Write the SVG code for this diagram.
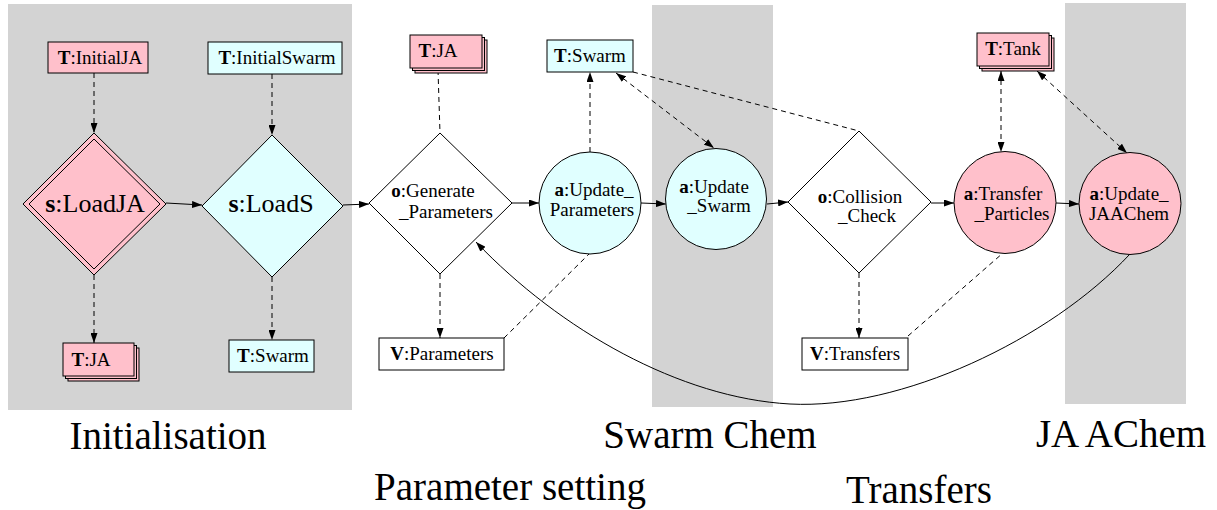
<svg xmlns="http://www.w3.org/2000/svg" width="1217" height="510" viewBox="0 0 1217 510" font-family="'Liberation Serif', 'Times New Roman', Tinos, 'DejaVu Serif', 'Noto Serif', serif">
<style>
text{font-family:'Liberation Serif','Times New Roman',Tinos,'DejaVu Serif','Noto Serif',serif;fill:#000;text-anchor:middle}
.n{font-size:19px}
.big{font-size:26px}
.lbl{font-size:39px}
.b{font-weight:bold}
.bg{fill:#d3d3d3;stroke:none}
.pk{fill:#ffc0cb;stroke:#000;stroke-width:1}
.cy{fill:#e0ffff;stroke:#000;stroke-width:1}
.wh{fill:#fff;stroke:#000;stroke-width:1}
.sol{fill:none;stroke:#000;stroke-width:1}
.das{fill:none;stroke:#000;stroke-width:1;stroke-dasharray:5,4}
.arr{marker-end:url(#ah)}
.arr2{marker-start:url(#ah);marker-end:url(#ah)}
</style>
<defs>
<marker id="ah" viewBox="0 0 10 7" refX="10" refY="3.5" markerWidth="10" markerHeight="7" markerUnits="userSpaceOnUse" orient="auto-start-reverse"><path d="M0,0 L10,3.5 L0,7 z" fill="#000"/></marker>
</defs>
<rect width="1217" height="510" fill="#fff"/>
<g id="areas">
<rect class="bg" x="8" y="4" width="344" height="406"/>
<rect class="bg" x="652" y="5" width="121" height="402"/>
<rect class="bg" x="1065" y="3" width="121" height="401"/>
</g>
<g id="connectors">
<line class="das arr" x1="94" y1="73" x2="94" y2="133"/>
<line class="das arr" x1="94" y1="275" x2="94" y2="343"/>
<line class="das arr" x1="272" y1="74" x2="272" y2="135"/>
<line class="das arr" x1="272" y1="277" x2="272" y2="340"/>
<line class="sol arr" x1="166" y1="203" x2="202" y2="205"/>
<line class="sol arr" x1="343" y1="205" x2="369" y2="204"/>
<line class="das" x1="438" y1="70" x2="440" y2="133"/>
<line class="das arr" x1="590" y1="152" x2="590" y2="72"/>
<line class="sol arr" x1="512" y1="203" x2="539" y2="203"/>
<line class="das arr" x1="440" y1="274" x2="440" y2="338"/>
<line class="das" x1="504" y1="338" x2="589" y2="254"/>
<line class="sol arr" x1="641" y1="203" x2="666" y2="204"/>
<line class="das arr2" x1="616" y1="73" x2="714" y2="148"/>
<line class="das" x1="633" y1="72" x2="859" y2="131"/>
<line class="sol arr" x1="767" y1="204" x2="788" y2="202"/>
<line class="das arr" x1="859" y1="273" x2="859" y2="338"/>
<line class="das" x1="908" y1="336" x2="1003" y2="253"/>
<line class="sol arr" x1="931" y1="203" x2="954" y2="203"/>
<line class="das arr2" x1="1001" y1="71" x2="1001" y2="152"/>
<line class="das arr2" x1="1037" y1="71" x2="1127" y2="153"/>
<line class="sol arr" x1="1056" y1="203" x2="1079" y2="204"/>
<path class="sol arr" d="M1130,254 C1050,340 900,410 790,404 C680,398 560,330 476,242"/>
</g>
<g id="InitialJA">
<rect class="pk" x="48" y="42" width="100" height="31"/>
<text class="n" x="100" y="64"><tspan class="b">T</tspan>:InitialJA</text>
</g>
<g id="InitialSwarm">
<rect class="cy" x="208" y="42" width="134" height="32"/>
<text class="n" x="277" y="64"><tspan class="b">T</tspan>:InitialSwarm</text>
</g>
<g id="LoadJA">
<polygon class="pk" points="94,133 166,204 94,275 23,204"/>
<polygon class="pk" points="94,139 160,204 94,269 29,204"/>
<text class="big" x="95" y="212"><tspan class="b">s</tspan>:LoadJA</text>
</g>
<g id="LoadS">
<polygon class="cy" points="272,135 343,206 272,277 202,206"/>
<text class="big" x="271" y="212"><tspan class="b">s</tspan>:LoadS</text>
</g>
<g id="JA_bottom">
<rect class="pk" x="68" y="348" width="71" height="33"/>
<rect class="pk" x="65.5" y="345.5" width="71" height="33"/>
<rect class="pk" x="63" y="343" width="71" height="33"/>
<text class="n" x="91" y="366"><tspan class="b">T</tspan>:JA</text>
</g>
<g id="Swarm_bottom">
<rect class="cy" x="229" y="340" width="85" height="32"/>
<text class="n" x="273" y="362"><tspan class="b">T</tspan>:Swarm</text>
</g>
<g id="JA_top">
<rect class="pk" x="415" y="40" width="72" height="33"/>
<rect class="pk" x="412.5" y="37.5" width="72" height="33"/>
<rect class="pk" x="410" y="35" width="72" height="33"/>
<text class="n" x="438" y="57"><tspan class="b">T</tspan>:JA</text>
</g>
<g id="Swarm_top">
<rect class="cy" x="547" y="40" width="86" height="32"/>
<text class="n" x="590" y="62"><tspan class="b">T</tspan>:Swarm</text>
</g>
<g id="Generate_Parameters">
<polygon class="wh" points="440,133 512,203 440,274 369,203"/>
<text class="n" x="433" y="197"><tspan class="b">o</tspan>:Generate</text>
<text class="n" x="446" y="218">_Parameters</text>
</g>
<g id="Update_Parameters">
<circle class="cy" cx="590" cy="203" r="51"/>
<text class="n" x="594" y="196"><tspan class="b">a</tspan>:Update_</text>
<text class="n" x="592" y="216">Parameters</text>
</g>
<g id="Parameters">
<rect class="wh" x="379" y="338" width="125" height="32"/>
<text class="n" x="442" y="360"><tspan class="b">V</tspan>:Parameters</text>
</g>
<g id="Update_Swarm">
<circle class="cy" cx="716" cy="199" r="50.5"/>
<text class="n" x="714" y="193"><tspan class="b">a</tspan>:Update</text>
<text class="n" x="719" y="212">_Swarm</text>
</g>
<g id="Collision_Check">
<polygon class="wh" points="859,131 931,202 859,273 788,202"/>
<text class="n" x="860" y="203"><tspan class="b">o</tspan>:Collision</text>
<text class="n" x="867" y="222">_Check</text>
</g>
<g id="Transfers">
<rect class="wh" x="802" y="338" width="106" height="32"/>
<text class="n" x="855" y="360"><tspan class="b">V</tspan>:Transfers</text>
</g>
<g id="Transfer_Particles">
<circle class="pk" cx="1005" cy="202.5" r="51"/>
<text class="n" x="1003" y="200"><tspan class="b">a</tspan>:Transfer</text>
<text class="n" x="1012" y="220">_Particles</text>
</g>
<g id="Tank">
<rect class="pk" x="982" y="38" width="72" height="33"/>
<rect class="pk" x="979.5" y="35.5" width="72" height="33"/>
<rect class="pk" x="977" y="33" width="72" height="33"/>
<text class="n" x="1013" y="55"><tspan class="b">T</tspan>:Tank</text>
</g>
<g id="Update_JAAChem">
<circle class="pk" cx="1130" cy="203.5" r="51"/>
<text class="n" x="1129" y="200"><tspan class="b">a</tspan>:Update_</text>
<text class="n" x="1129" y="220">JAAChem</text>
</g>
<g id="labels">
<text class="lbl" x="168" y="449">Initialisation</text>
<text class="lbl" x="710" y="448">Swarm Chem</text>
<text class="lbl" x="1121" y="447">JA AChem</text>
<text class="lbl" x="510" y="500">Parameter setting</text>
<text class="lbl" x="919" y="503">Transfers</text>
</g>
</svg>
